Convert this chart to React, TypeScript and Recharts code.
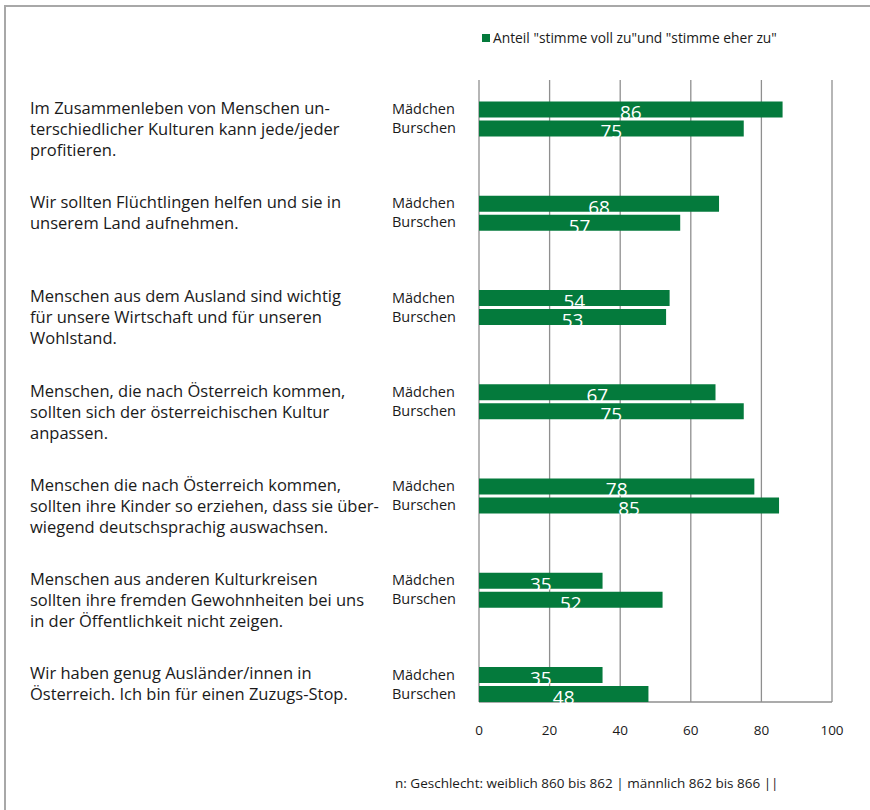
import { BarChart, Bar, XAxis, YAxis, CartesianGrid, LabelList } from "recharts";

const statements = [
  ["Im Zusammenleben von Menschen un-", "terschiedlicher Kulturen kann jede/jeder", "profitieren."],
  ["Wir sollten Flüchtlingen helfen und sie in", "unserem Land aufnehmen."],
  ["Menschen aus dem Ausland sind wichtig", "für unsere Wirtschaft und für unseren", "Wohlstand."],
  ["Menschen, die nach Österreich kommen,", "sollten sich der österreichischen Kultur", "anpassen."],
  ["Menschen die nach Österreich kommen,", "sollten ihre Kinder so erziehen, dass sie über-", "wiegend deutschsprachig auswachsen."],
  ["Menschen aus anderen Kulturkreisen", "sollten ihre fremden Gewohnheiten bei uns", "in der Öffentlichkeit nicht zeigen."],
  ["Wir haben genug Ausländer/innen in", "Österreich. Ich bin für einen Zuzugs-Stop."],
];

const maedchen = [86, 68, 54, 67, 78, 35, 35];
const burschen = [75, 57, 53, 75, 85, 52, 48];
const groupLabels = ["Mädchen", "Burschen"];
const xTicks = [0, 20, 40, 60, 80, 100];
const legendText = 'Anteil "stimme voll zu"und "stimme eher zu"';
const footnote = "n: Geschlecht: weiblich 860 bis 862 | männlich 862 bis 866 ||";

const data = statements.map((_, i) => ({
  id: i,
  maedchen: maedchen[i],
  burschen: burschen[i],
}));

const FONT = "'Open Sans', sans-serif";
const GREEN = "#047a3c";
const GRID = "#8f8f8f";

// grid area is shorter than the category band range
const GRID_TOP = 80;
const GRID_BOTTOM = 702;

const StatementTick = (props: any) => {
  const { y, payload } = props;
  const lines = statements[payload.value] || [];
  return (
    <g fontFamily={FONT} fill="#1a1a1a">
      <text x={392} y={y - 9.5} dy="0.36em" fontSize={14.5}>{groupLabels[0]}</text>
      <text x={392} y={y + 9.5} dy="0.36em" fontSize={14.5}>{groupLabels[1]}</text>
      {lines.map((line, j) => (
        <text key={j} x={30} y={y - 10.5 + j * 21} dy="0.36em" fontSize={16.5}>
          {line}
        </text>
      ))}
    </g>
  );
};

const ValueLabel = (props: any) => {
  const { x, y, width, height, value } = props;
  return (
    <text
      x={x + width / 2}
      y={y + height + 2}
      textAnchor="middle"
      fontFamily={FONT}
      fontSize={19}
      fill="#ffffff"
    >
      {value}
    </text>
  );
};

export default function App() {
  return (
    <div style={{ position: "absolute", left: 0, top: 0, width: 870, height: 810, background: "#fff" }}>
      <div
        style={{
          position: "absolute",
          left: 4,
          top: 5,
          right: 0,
          bottom: 0,
          borderTop: "2px solid #a8a8a8",
          borderLeft: "2px solid #a8a8a8",
        }}
      />
      <div
        style={{
          position: "absolute",
          left: 482,
          top: 28,
          display: "flex",
          alignItems: "center",
          fontFamily: FONT,
          fontSize: 13.8,
          color: "#1a1a1a",
          whiteSpace: "nowrap",
        }}
      >
        <span style={{ width: 8, height: 8, background: GREEN, marginRight: 3, display: "inline-block" }} />
        {legendText}
      </div>
      <div style={{ position: "absolute", left: 0, top: 0 }}>
        <BarChart
          width={870}
          height={810}
          data={data}
          layout="vertical"
          margin={{ top: 71.375, right: 38, left: 419, bottom: 48.875 }}
          barSize={16}
          barGap={3}
        >
          <CartesianGrid
            y={GRID_TOP}
            height={GRID_BOTTOM - GRID_TOP}
            horizontalPoints={[GRID_BOTTOM]}
            stroke={GRID}
            strokeWidth={1.3}
          />
          <XAxis
            type="number"
            domain={[0, 100]}
            ticks={xTicks}
            height={30}
            axisLine={false}
            tickLine={false}
            tickSize={0}
            tickMargin={-6}
            tick={{ fontFamily: FONT, fontSize: 13.5, fill: "#1a1a1a" }}
          />
          <YAxis
            type="category"
            dataKey="id"
            width={60}
            axisLine={false}
            tickLine={false}
            tick={<StatementTick />}
          />
          <Bar dataKey="maedchen" name="Mädchen" fill={GREEN} isAnimationActive={false}>
            <LabelList dataKey="maedchen" content={<ValueLabel />} />
          </Bar>
          <Bar dataKey="burschen" name="Burschen" fill={GREEN} isAnimationActive={false}>
            <LabelList dataKey="burschen" content={<ValueLabel />} />
          </Bar>
        </BarChart>
      </div>
      <div
        style={{
          position: "absolute",
          left: 395,
          top: 774,
          fontFamily: FONT,
          fontSize: 13.5,
          color: "#1a1a1a",
          whiteSpace: "nowrap",
        }}
      >
        {footnote}
      </div>
    </div>
  );
}
